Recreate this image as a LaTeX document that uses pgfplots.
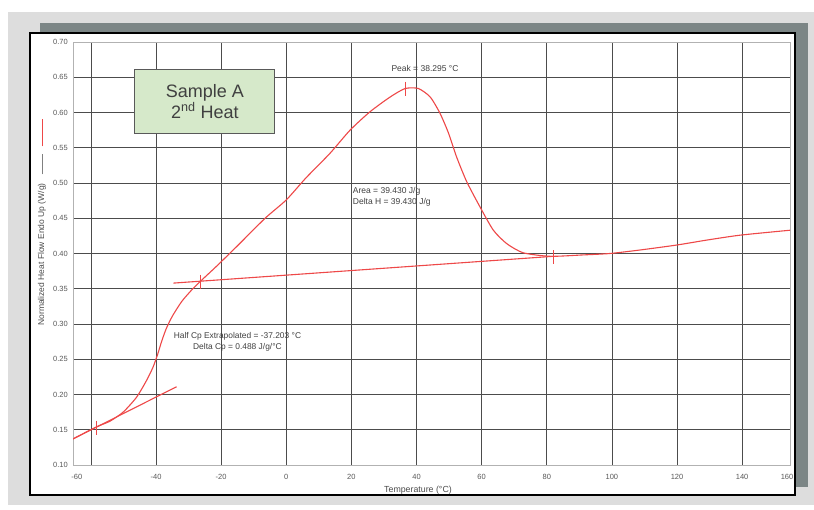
\documentclass[border=0pt]{standalone}
\usepackage{fontspec}
\setmainfont{Liberation Sans}
\usepackage{pgfplots}
\pgfplotsset{compat=1.18}
\definecolor{curve}{RGB}{238,72,72}
\definecolor{bggray}{RGB}{221,221,221}
\definecolor{shadow}{RGB}{124,134,134}
\definecolor{boxgreen}{RGB}{214,233,202}
\begin{document}
\begin{tikzpicture}
\useasboundingbox (0,0) rectangle (814pt,510pt);
% frame around the chart
\fill[bggray] (8pt,5pt) rectangle (814pt,498pt);
\fill[shadow] (40pt,23pt) rectangle (808pt,487pt);
\draw[black, line width=2pt, fill=white] (30pt,15pt) rectangle (795pt,477pt);
\begin{axis}[
  at={(73pt,45pt)}, anchor=south west,
  scale only axis, width=717pt, height=423pt,
  xmin=-65.5, xmax=154.7, ymin=0.10, ymax=0.70,
  xtick={-60,-40,...,140},
  xticklabels={,-40,-20,0,20,40,60,80,100,120,140},
  extra x ticks={-64.3,153.8},
  extra x tick labels={-60,160},
  extra x tick style={grid=none},
  ytick={0.10,0.15,0.20,0.25,0.30,0.35,0.40,0.45,0.50,0.55,0.60,0.65,0.70},
  yticklabel style={/pgf/number format/fixed, /pgf/number format/fixed zerofill,
    /pgf/number format/precision=2},
  /pgf/number format/assume math mode=true,
  grid=major, major grid style={black!70, line width=0.6pt},
  axis line style={gray!60, line width=0.6pt},
  major tick length=0pt,
  tick label style={font=\fontsize{7.5}{8}\selectfont, text=black!65},
  yticklabel style={inner sep=0pt, xshift=-5pt},
  xticklabel style={inner sep=0pt, yshift=-9pt},
]
% DSC trace
\addplot[curve, line width=1.1pt, smooth, tension=0.4] coordinates {
  (-65.5,0.137) (-58.3,0.154) (-54.2,0.162) (-50.1,0.175) (-46.0,0.196)
  (-42.9,0.220) (-40.9,0.239) (-39.5,0.257) (-38.3,0.275) (-36.9,0.293)
  (-35.0,0.311) (-32.1,0.332) (-29.1,0.348) (-26.5,0.360) (-21.4,0.382)
  (-15.2,0.410) (-6.5,0.450) (0,0.476) (6,0.507) (13.4,0.542) (19.6,0.575)
  (25.7,0.601) (31.9,0.622) (36.5,0.634) (40.6,0.634) (44.2,0.622)
  (47.2,0.599) (49.8,0.571) (52.3,0.537) (55.4,0.502) (59.5,0.466)
  (63.6,0.433) (67.7,0.414) (72.8,0.401) (81.0,0.396) (91.2,0.398)
  (99.4,0.400) (108.7,0.405) (119.9,0.412) (129.1,0.419) (139.4,0.426)
  (154.7,0.433)
};
% tangent lines
\addplot[curve, line width=1.1pt] coordinates {(-65.5,0.137) (-33.7,0.211)};
\addplot[curve, line width=1.1pt] coordinates {(-34.7,0.358) (82,0.396)};
% event markers
\addplot[color=curve, only marks, mark=|, mark size=7pt, mark options={solid, draw=curve, line width=0.9pt}]
  coordinates {(-58.3,0.153) (-26.5,0.360) (36.5,0.634) (82,0.395)};
% annotations
\node[font=\fontsize{8.5}{9}\selectfont, text=black!75] at (axis cs:42.6,0.663) {Peak = 38.295 °C};
\node[font=\fontsize{8.5}{11}\selectfont, text=black!75, anchor=north west, align=left, inner sep=0pt]
  at (axis cs:20.4,0.494) {Area = 39.430 J/g\\Delta H = 39.430 J/g};
\node[font=\fontsize{8.4}{11}\selectfont, text=black!75, align=center, inner sep=0pt]
  at (axis cs:-15,0.2745) {Half Cp Extrapolated = -37.203 °C\\Delta Cp = 0.488 J/g/°C};
\node[draw=black!65, line width=1pt, fill=boxgreen, minimum width=140pt, minimum height=64pt,
  align=center, font=\fontsize{18}{21}\selectfont, text=black!75]
  at (axis cs:-25,0.616) {Sample A\\2\textsuperscript{nd} Heat};
\end{axis}
\node[rotate=90, font=\fontsize{8.5}{9}\selectfont, text=black!70] at (42pt,287.5pt)
  {Normalized Heat Flow Endo Up (W/g)\hspace{9pt}\textcolor{gray}{\rule[0.3ex]{20pt}{0.6pt}}\hspace{8pt}\textcolor{curve}{\rule[0.3ex]{27pt}{0.8pt}}};
\node[font=\fontsize{8.8}{9}\selectfont, text=black!70] at (418pt,20pt) {Temperature (°C)};
\end{tikzpicture}
\end{document}
